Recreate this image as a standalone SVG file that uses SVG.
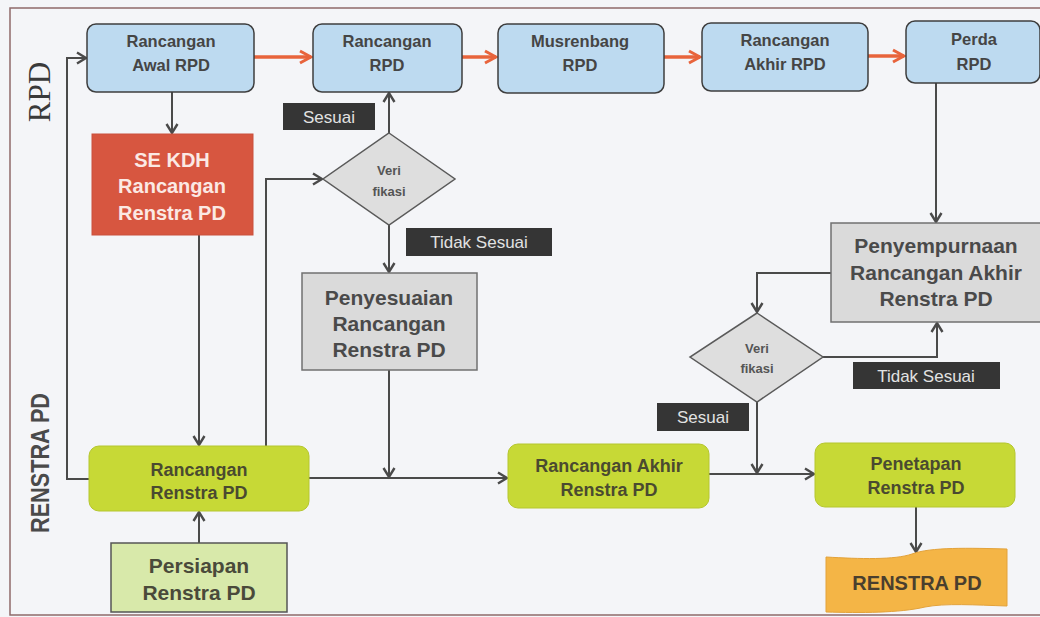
<svg xmlns="http://www.w3.org/2000/svg" width="1040" height="617" viewBox="0 0 1040 617">
<defs>
<style>
.t{font-family:"Liberation Sans",Arial,sans-serif;font-weight:700;text-anchor:middle}
.blue{fill:#bddaf0;stroke:#3e3e3e;stroke-width:1.5}
.green{fill:#c7d936;stroke:#b5c62e;stroke-width:1}
.gray{fill:#dadada;stroke:#707070;stroke-width:1.5}
.dia{fill:#dedede;stroke:#5a5a5a;stroke-width:1.5}
.lbl{fill:#353535}
.lt{font-family:"Liberation Sans",Arial,sans-serif;font-size:17px;fill:#e2e2e2;text-anchor:middle}
.c{fill:none;stroke:#4a4a4a;stroke-width:2}
.r{fill:none;stroke:#e8643c;stroke-width:3.5}
</style>
<marker id="ad" markerUnits="userSpaceOnUse" markerWidth="14" markerHeight="14" refX="11" refY="7" orient="auto">
<path d="M2,1.5 L11,7 L2,12.5" fill="none" stroke="#4a4a4a" stroke-width="2.4"/>
</marker>
<marker id="ar" markerUnits="userSpaceOnUse" markerWidth="16" markerHeight="16" refX="13" refY="8" orient="auto">
<path d="M2,2 L13,8 L2,14" fill="none" stroke="#e8643c" stroke-width="3"/>
</marker>
</defs>
<rect x="0" y="0" width="1040" height="617" fill="#f4f5f8"/>
<rect x="10" y="8" width="1040" height="607" fill="none" stroke="#8e6a6a" stroke-width="1.5"/>
<text x="0" y="0" transform="translate(50,92) rotate(-90)" style="font-family:'Liberation Serif','Times New Roman',serif;font-size:31px;fill:#3a3a3a;text-anchor:middle">RPD</text>
<text x="0" y="0" transform="translate(49,463) rotate(-90)" class="t" style="font-size:25px;fill:#4a4a4a" textLength="140" lengthAdjust="spacingAndGlyphs">RENSTRA PD</text>

<g id="connectors">
<path class="r" d="M254,57 L311,57" marker-end="url(#ar)"/>
<path class="r" d="M462,57 L496,57" marker-end="url(#ar)"/>
<path class="r" d="M664,57 L700,57" marker-end="url(#ar)"/>
<path class="r" d="M868,56 L904,56" marker-end="url(#ar)"/>
<path class="c" d="M89,479 L67,479 L67,58 L86,58" marker-end="url(#ad)"/>
<path class="c" d="M172,92 L172,133" marker-end="url(#ad)"/>
<path class="c" d="M199,235 L199,445" marker-end="url(#ad)"/>
<path class="c" d="M199,543 L199,512" marker-end="url(#ad)"/>
<path class="c" d="M266,446 L266,179 L322,179" marker-end="url(#ad)"/>
<path class="c" d="M389,133 L389,93" marker-end="url(#ad)"/>
<path class="c" d="M389,225 L389,272" marker-end="url(#ad)"/>
<path class="c" d="M389,370 L389,477" marker-end="url(#ad)"/>
<path class="c" d="M309,478 L507,478" marker-end="url(#ad)"/>
<path class="c" d="M709,474 L814,474" marker-end="url(#ad)"/>
<path class="c" d="M757,402 L757,473" marker-end="url(#ad)"/>
<path class="c" d="M823,357 L937,357 L937,323" marker-end="url(#ad)"/>
<path class="c" d="M936,83 L936,222" marker-end="url(#ad)"/>
<path class="c" d="M831,273 L757,273 L757,312" marker-end="url(#ad)"/>
<path class="c" d="M916,507 L916,552" marker-end="url(#ad)"/>
</g>

<g id="awal-rpd">
<rect class="blue" x="87" y="24" width="167" height="68" rx="9"/>
<text class="t" x="171" y="47" style="font-size:16.5px;fill:#454545">Rancangan</text>
<text class="t" x="171" y="71" style="font-size:16.5px;fill:#454545">Awal RPD</text>
</g>
<g id="rancangan-rpd">
<rect class="blue" x="313" y="24" width="149" height="68" rx="9"/>
<text class="t" x="387" y="47" style="font-size:16.5px;fill:#454545">Rancangan</text>
<text class="t" x="387" y="71" style="font-size:16.5px;fill:#454545">RPD</text>
</g>
<g id="musrenbang-rpd">
<rect class="blue" x="498" y="24" width="166" height="69" rx="9"/>
<text class="t" x="580" y="47" style="font-size:16.5px;fill:#454545">Musrenbang</text>
<text class="t" x="580" y="71" style="font-size:16.5px;fill:#454545">RPD</text>
</g>
<g id="akhir-rpd">
<rect class="blue" x="702" y="23" width="166" height="68" rx="9"/>
<text class="t" x="785" y="46" style="font-size:16.5px;fill:#454545">Rancangan</text>
<text class="t" x="785" y="70" style="font-size:16.5px;fill:#454545">Akhir RPD</text>
</g>
<g id="perda-rpd">
<rect class="blue" x="906" y="21" width="134" height="62" rx="9"/>
<text class="t" x="974" y="45" style="font-size:16.5px;fill:#454545">Perda</text>
<text class="t" x="974" y="70" style="font-size:16.5px;fill:#454545">RPD</text>
</g>
<g id="se-kdh">
<rect x="92" y="134" width="161" height="101" fill="#d75640" stroke="#c9503c" stroke-width="1"/>
<text class="t" x="172" y="167" style="font-size:20px;fill:#fbe9e4">SE KDH</text>
<text class="t" x="172" y="193" style="font-size:20px;fill:#fbe9e4">Rancangan</text>
<text class="t" x="172" y="220" style="font-size:20px;fill:#fbe9e4">Renstra PD</text>
</g>
<g id="verifikasi-1">
<polygon class="dia" points="389,133 455,179 389,225 323,179"/>
<text class="t" x="389" y="175" style="font-size:13px;fill:#555">Veri</text>
<text class="t" x="389" y="196" style="font-size:13px;fill:#555">fikasi</text>
</g>
<g id="label-sesuai-1">
<rect class="lbl" x="283" y="103" width="92" height="27"/>
<text class="lt" x="329" y="123">Sesuai</text>
</g>
<g id="label-tidak-sesuai-1">
<rect class="lbl" x="406" y="228" width="146" height="28"/>
<text class="lt" x="479" y="248">Tidak Sesuai</text>
</g>
<g id="penyesuaian">
<rect class="gray" x="302" y="273" width="175" height="97"/>
<text class="t" x="389" y="305" style="font-size:21px;fill:#4a4a4a">Penyesuaian</text>
<text class="t" x="389" y="331" style="font-size:21px;fill:#4a4a4a">Rancangan</text>
<text class="t" x="389" y="357" style="font-size:21px;fill:#4a4a4a">Renstra PD</text>
</g>
<g id="penyempurnaan">
<rect class="gray" x="831" y="223" width="212" height="99"/>
<text class="t" x="936" y="253" style="font-size:21px;fill:#4a4a4a">Penyempurnaan</text>
<text class="t" x="936" y="280" style="font-size:21px;fill:#4a4a4a">Rancangan Akhir</text>
<text class="t" x="936" y="306" style="font-size:21px;fill:#4a4a4a">Renstra PD</text>
</g>
<g id="verifikasi-2">
<polygon class="dia" points="757,313 823,357 757,402 690,357"/>
<text class="t" x="757" y="353" style="font-size:13px;fill:#555">Veri</text>
<text class="t" x="757" y="373" style="font-size:13px;fill:#555">fikasi</text>
</g>
<g id="label-tidak-sesuai-2">
<rect class="lbl" x="853" y="362" width="147" height="27"/>
<text class="lt" x="926" y="382">Tidak Sesuai</text>
</g>
<g id="label-sesuai-2">
<rect class="lbl" x="657" y="403" width="92" height="28"/>
<text class="lt" x="703" y="423">Sesuai</text>
</g>
<g id="rancangan-renstra">
<rect class="green" x="89" y="446" width="220" height="65" rx="10"/>
<text class="t" x="199" y="476" style="font-size:18px;fill:#4a4a30">Rancangan</text>
<text class="t" x="199" y="499" style="font-size:18px;fill:#4a4a30">Renstra PD</text>
</g>
<g id="persiapan">
<rect x="111" y="543" width="176" height="69" fill="#d8e9aa" stroke="#555" stroke-width="1.5"/>
<text class="t" x="199" y="573" style="font-size:21px;fill:#4a4a3a">Persiapan</text>
<text class="t" x="199" y="600" style="font-size:21px;fill:#4a4a3a">Renstra PD</text>
</g>
<g id="rancangan-akhir-renstra">
<rect class="green" x="508" y="444" width="201" height="64" rx="10"/>
<text class="t" x="609" y="472" style="font-size:18px;fill:#4a4a30">Rancangan Akhir</text>
<text class="t" x="609" y="496" style="font-size:18px;fill:#4a4a30">Renstra PD</text>
</g>
<g id="penetapan">
<rect class="green" x="815" y="443" width="200" height="64" rx="10"/>
<text class="t" x="916" y="470" style="font-size:18px;fill:#4a4a30">Penetapan</text>
<text class="t" x="916" y="494" style="font-size:18px;fill:#4a4a30">Renstra PD</text>
</g>
<g id="renstra-pd-doc">
<path d="M826,557 C860,559 895,560 912,554 C930,547 970,548 1007,549 L1007,606 C975,605 945,603 925,607 C900,613 860,613 826,612 Z" fill="#f4b546" stroke="#e3a23a" stroke-width="1"/>
<text class="t" x="917" y="590" style="font-size:20px;fill:#4a3f2e">RENSTRA PD</text>
</g>
</svg>
